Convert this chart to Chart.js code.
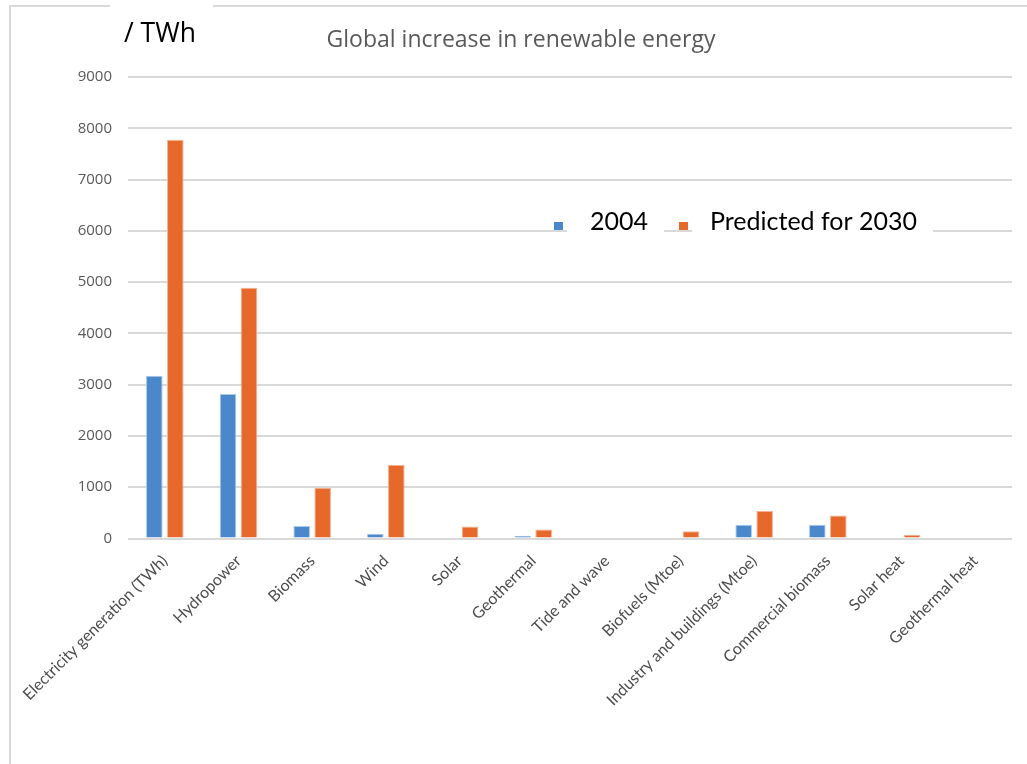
<!DOCTYPE html>
<html>
<head>
<meta charset="utf-8">
<title>Global increase in renewable energy</title>
<script src="https://cdn.jsdelivr.net/npm/chart.js@4.4.1/dist/chart.umd.min.js"></script>
<style>
  html, body { margin: 0; padding: 0; background: #ffffff; }
  #wrap { width: 1027px; height: 764px; position: relative; }
</style>
</head>
<body>
<div id="wrap"><canvas id="chart" width="1027" height="764"></canvas></div>
<script>
// Renewable energy by source: 2004 and the 2030 projection
const categories = [
  'Electricity generation (TWh)', 'Hydropower', 'Biomass', 'Wind', 'Solar',
  'Geothermal', 'Tide and wave', 'Biofuels (Mtoe)', 'Industry and buildings (Mtoe)',
  'Commercial biomass', 'Solar heat', 'Geothermal heat'
];
const values2004 = [3175, 2820, 245, 95, 0, 55, 0, 0, 270, 270, 0, 0];
const values2030 = [7775, 4890, 990, 1435, 235, 175, 0, 140, 535, 450, 75, 0];
const seriesNames = ['2004', 'Predicted for 2030'];
const yTicks = [0, 1000, 2000, 3000, 4000, 5000, 6000, 7000, 8000, 9000];
const titleText = 'Global increase in renewable energy';
const unitText = '/ TWh';

const BLUE = '#4a87cb';
const ORANGE = '#e6682a';
const GRID = '#d9d9d9';
const LABEL = '#595959';

// Frame, unit label, title and in-plot legend
const decorations = {
  id: 'decorations',
  beforeDraw(chart) {
    const ctx = chart.ctx;
    ctx.save();
    ctx.fillStyle = '#ffffff';
    ctx.fillRect(0, 0, chart.width, chart.height);
    ctx.strokeStyle = GRID;
    ctx.lineWidth = 2;
    ctx.beginPath();
    ctx.moveTo(10, chart.height);
    ctx.lineTo(10, 6);
    ctx.lineTo(chart.width, 6);
    ctx.stroke();
    ctx.restore();
  },
  afterDraw(chart) {
    const ctx = chart.ctx;
    ctx.save();
    // unit label sits on a white patch that interrupts the frame
    ctx.fillStyle = '#ffffff';
    ctx.fillRect(110, 0, 103, 14);
    ctx.fillStyle = '#000000';
    ctx.font = '26.5px "Open Sans"';
    ctx.textAlign = 'left';
    ctx.textBaseline = 'alphabetic';
    ctx.fillText(unitText, 124, 42);

    // chart title
    ctx.fillStyle = LABEL;
    ctx.font = '23px "Open Sans"';
    ctx.textAlign = 'center';
    ctx.fillText(titleText, 521, 47);

    // legend inside the plot
    ctx.font = '25px Lato';
    ctx.textAlign = 'left';
    const textOffsets = [36, 31];
    let x = 554;
    const base = 230;
    chart.data.datasets.forEach((ds, i) => {
      const label = ds.label;
      const off = textOffsets[i];
      const tw = ctx.measureText(label).width;
      ctx.fillStyle = '#ffffff';
      ctx.fillRect(x + 13, base - 25, off - 13 + tw + 16, 31);
      ctx.fillStyle = ds.backgroundColor;
      ctx.fillRect(x, base - 8, 9, 8);
      ctx.fillStyle = '#000000';
      ctx.fillText(label, x + off, base);
      x = x + off + tw + 31;
    });
    ctx.restore();
  }
};

new Chart(document.getElementById('chart'), {
  type: 'bar',
  data: {
    labels: categories,
    datasets: [
      {
        label: seriesNames[0],
        data: values2004,
        backgroundColor: BLUE,
        borderColor: '#a9c7ea',
        borderWidth: 1,
        categoryPercentage: 0.57,
        barPercentage: 0.79
      },
      {
        label: seriesNames[1],
        data: values2030,
        backgroundColor: ORANGE,
        borderColor: '#f3b190',
        borderWidth: 1,
        categoryPercentage: 0.57,
        barPercentage: 0.79
      }
    ]
  },
  options: {
    responsive: false,
    animation: false,
    devicePixelRatio: 1,
    layout: { padding: { left: 0, top: 77, right: 15, bottom: 0 } },
    plugins: {
      legend: { display: false },
      title: { display: false },
      tooltip: { enabled: false }
    },
    scales: {
      x: {
        grid: { display: false },
        border: { display: false },
        ticks: {
          color: '#4d4d4d',
          font: { family: 'Lato', size: 16 },
          minRotation: 45,
          maxRotation: 45,
          autoSkip: false,
          padding: 5
        },
        afterFit(scale) {
          scale.height = 764 - 538.5;
          scale.paddingLeft = 0;
          scale.paddingRight = 0;
        }
      },
      y: {
        min: 0,
        max: 9000,
        afterBuildTicks(scale) {
          scale.ticks = yTicks.map(v => ({ value: v }));
        },
        grid: { color: GRID, lineWidth: 2, drawTicks: false },
        border: { display: false },
        ticks: {
          color: LABEL,
          font: { family: 'Open Sans', size: 15 },
          padding: 16,
          callback: (value) => String(value)
        },
        afterFit(scale) {
          scale.width = 128;
          scale.paddingTop = 0;
          scale.paddingBottom = 0;
        }
      }
    }
  },
  plugins: [decorations]
});
</script>
</body>
</html>
